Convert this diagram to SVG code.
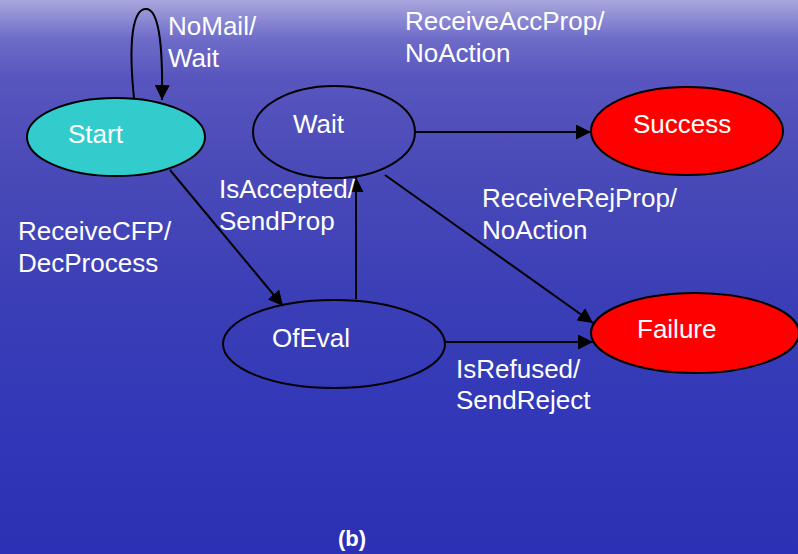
<svg xmlns="http://www.w3.org/2000/svg" width="798" height="554" viewBox="0 0 798 554">
<defs>
<linearGradient id="bg" x1="0" y1="0" x2="0" y2="1">
<stop offset="0" stop-color="#a8a6de"/>
<stop offset="0.02" stop-color="#9896d6"/>
<stop offset="0.07" stop-color="#6e6cc8"/>
<stop offset="0.14" stop-color="#5856be"/>
<stop offset="0.3" stop-color="#4a4ab8"/>
<stop offset="0.55" stop-color="#3a3eb6"/>
<stop offset="0.8" stop-color="#3036b8"/>
<stop offset="1" stop-color="#2c30b4"/>
</linearGradient>
<marker id="arr" viewBox="0 0 15 15" refX="15" refY="7.5" markerWidth="15" markerHeight="15" markerUnits="userSpaceOnUse" orient="auto">
<path d="M0,0 L15,7.5 L0,15 Z" fill="#000"/>
</marker>
</defs>
<style>
.n{stroke:#000;stroke-width:2}
.t{font-family:"Liberation Sans",Arial,sans-serif;font-size:26px;fill:#fff}
.e{fill:none;stroke:#000;stroke-width:2;marker-end:url(#arr)}
</style>
<rect width="798" height="554" fill="url(#bg)"/>
<g id="connectors">
<path class="e" d="M134,98 C128,40 133,9 146,9 C158,9 163,40 162,100"/>
<line class="e" x1="170" y1="170" x2="283" y2="306"/>
<line class="e" x1="356" y1="299" x2="356" y2="177"/>
<line class="e" x1="414" y1="132" x2="591" y2="132"/>
<line class="e" x1="385" y1="175" x2="593" y2="323"/>
<line class="e" x1="445" y1="342" x2="593" y2="342"/>
</g>
<g id="labels">
<text class="t" x="168" y="35">NoMail/</text>
<text class="t" x="168" y="67">Wait</text>
<text class="t" x="405" y="30">ReceiveAccProp/</text>
<text class="t" x="405" y="62">NoAction</text>
<text class="t" x="219" y="198">IsAccepted/</text>
<text class="t" x="219" y="230">SendProp</text>
<text class="t" x="482" y="207">ReceiveRejProp/</text>
<text class="t" x="482" y="239">NoAction</text>
<text class="t" x="18" y="240">ReceiveCFP/</text>
<text class="t" x="18" y="272">DecProcess</text>
<text class="t" x="456" y="378">IsRefused/</text>
<text class="t" x="456" y="409">SendReject</text>
<text x="338" y="546" style="font-family:'Liberation Sans',Arial,sans-serif;font-size:22px;font-weight:bold;fill:#fff">(b)</text>
</g>
<g id="start">
<ellipse class="n" cx="116" cy="137" rx="89" ry="39" fill="#33cccc"/>
<text class="t" x="68" y="143">Start</text>
</g>
<g id="wait">
<ellipse class="n" cx="334" cy="132" rx="81" ry="46" fill="none"/>
<text class="t" x="293" y="133">Wait</text>
</g>
<g id="success">
<ellipse class="n" cx="687" cy="131" rx="96" ry="44" fill="#ff0000"/>
<text class="t" x="633" y="133">Success</text>
</g>
<g id="ofeval">
<ellipse class="n" cx="334" cy="344" rx="111" ry="44" fill="none"/>
<text class="t" x="272" y="347">OfEval</text>
</g>
<g id="failure">
<ellipse class="n" cx="695" cy="333" rx="104" ry="40" fill="#ff0000"/>
<text class="t" x="637" y="338">Failure</text>
</g>
</svg>
